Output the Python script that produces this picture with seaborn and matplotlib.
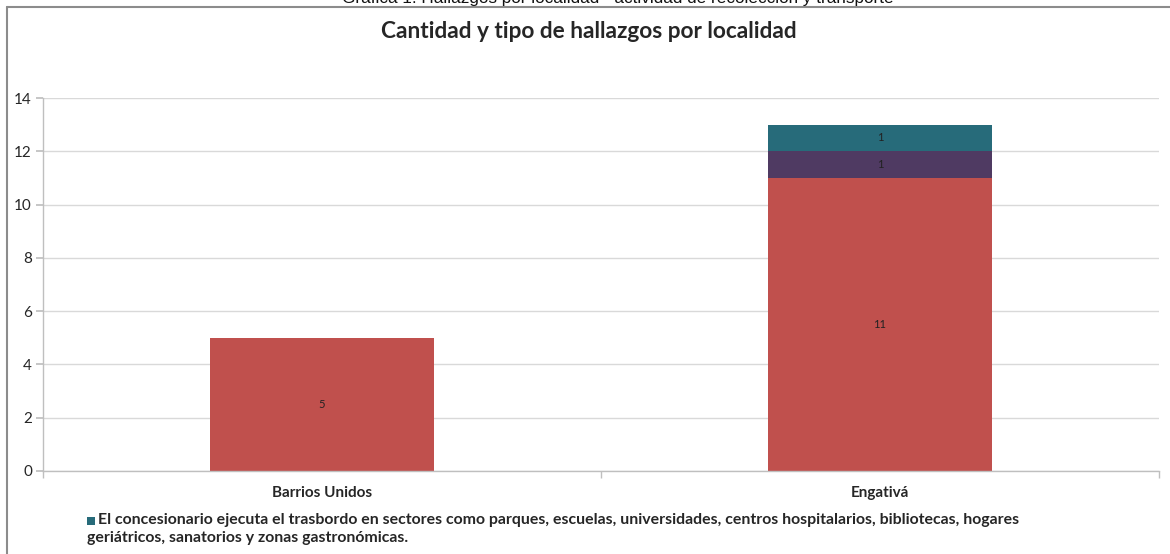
import matplotlib
matplotlib.use("Agg")
import matplotlib.pyplot as plt
import seaborn as sns
import pandas as pd
from matplotlib.lines import Line2D
from matplotlib.patches import Rectangle

# Datos
localidades = ["Barrios Unidos", "Engativá"]
hallazgo_a = [5, 11]   # rojo
hallazgo_b = [0, 1]    # morado
trasbordo = [0, 1]     # azul verdoso
colores = ["#C0504D", "#4F3A62", "#276B7A"]
leyenda_l1 = ("El concesionario ejecuta el trasbordo en sectores como parques, escuelas, "
              "universidades, centros hospitalarios, bibliotecas, hogares")
leyenda_l2 = "geriátricos, sanatorios y zonas gastronómicas."

W, H = 1170, 554

def main():
    sns.set_theme(style="white")
    plt.rcParams["font.family"] = ["Lato", "DejaVu Sans"]

    df = pd.DataFrame({"localidad": localidades, "a": hallazgo_a, "b": hallazgo_b, "c": trasbordo})
    df["cum_a"] = df["a"]
    df["cum_b"] = df["cum_a"] + df["b"]
    df["cum_c"] = df["cum_b"] + df["c"]

    fig = plt.figure(figsize=(W / 100, H / 100), dpi=100)
    ax = fig.add_axes([43 / W, 1 - 471 / H, (1159 - 43) / W, (471 - 98) / H])

    # barras apiladas (totales acumulados de atrás hacia adelante)
    for col, color in zip(["cum_c", "cum_b", "cum_a"], colores[::-1]):
        sns.barplot(data=df, x="localidad", y=col, color=color, width=0.4,
                    saturation=1, ax=ax, edgecolor="none", errorbar=None)

    # etiquetas dentro de los segmentos
    for i in range(len(df)):
        base = 0
        for val in [df["a"][i], df["b"][i], df["c"][i]]:
            if val > 0:
                ax.text(i, base + val / 2, str(val), ha="center", va="center",
                        fontsize=8, color="#222222")
            base += val

    ax.set_ylim(0, 14)
    ax.set_xlim(-0.5, 1.5)
    ax.set_yticks(range(0, 15, 2))
    ax.yaxis.grid(True, color="#D9D9D9", linewidth=1)
    ax.set_axisbelow(True)
    ax.set_xlabel("")
    ax.set_ylabel("")
    for s in ["top", "right"]:
        ax.spines[s].set_visible(False)
    for s in ["left", "bottom"]:
        ax.spines[s].set_color("#BFBFBF")
        ax.spines[s].set_linewidth(1)
    ax.tick_params(axis="y", length=5, color="#BFBFBF", labelsize=11, left=True, pad=3)
    ax.tick_params(axis="x", which="major", length=0, labelsize=11, pad=11)
    ax.set_xticks([-0.5, 0.5, 1.5], minor=True)
    ax.tick_params(axis="x", which="minor", length=5, color="#BFBFBF", bottom=True)
    for lbl in ax.get_xticklabels():
        lbl.set_fontweight("bold")

    fig.text(589 / W, 1 - 32 / H, "Cantidad y tipo de hallazgos por localidad",
             ha="center", va="center", fontsize=16.3, fontweight="bold")
    fig.text(618 / W, 1 + 1 / H, "Gráfica 1. Hallazgos por localidad - actividad de recolección y transporte",
             ha="center", va="center", fontsize=12.3, family="Liberation Sans", color="#111111")

    # leyenda
    fig.add_artist(Rectangle((87 / W, 1 - 525 / H), 8 / W, 8 / H, transform=fig.transFigure,
                             facecolor=colores[2], edgecolor="none"))
    fig.text(98 / W, 1 - 520 / H, leyenda_l1, ha="left", va="center",
             fontsize=11.4, fontweight="bold")
    fig.text(87 / W, 1 - 538 / H, leyenda_l2, ha="left", va="center",
             fontsize=11.4, fontweight="bold")

    # marco exterior
    fig.add_artist(Line2D([7 / W, 7 / W], [0, 1 - 7 / H], color="#8C8C8C", lw=1.5))
    fig.add_artist(Line2D([7 / W, 1], [1 - 7 / H, 1 - 7 / H], color="#8C8C8C", lw=1.5))

    fig.savefig("out.png", dpi=100)
    plt.close(fig)

if __name__ == "__main__":
    main()
